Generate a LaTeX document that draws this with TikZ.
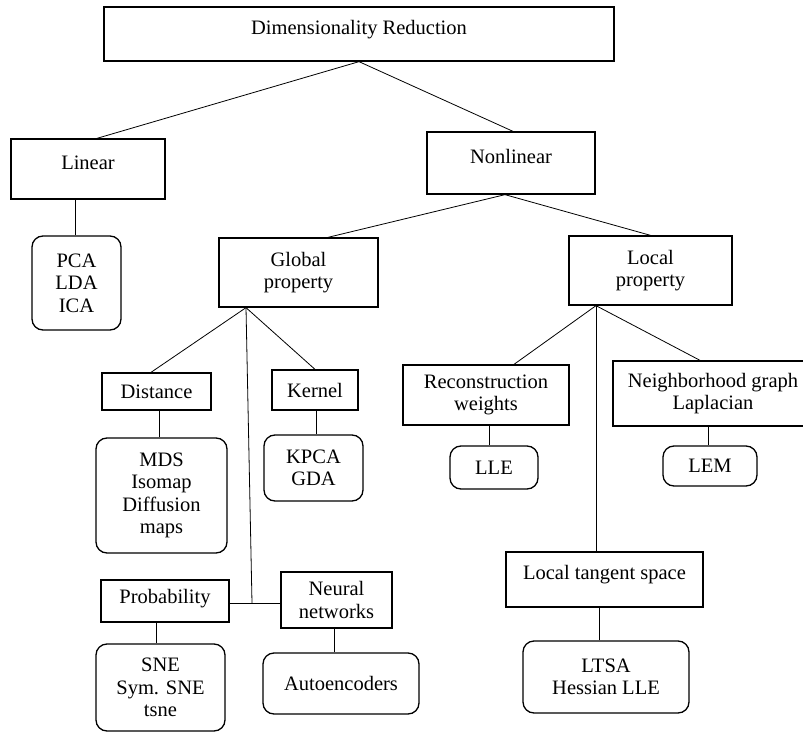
\documentclass[tikz,border=0pt]{standalone}
\usepackage{fontspec}
\setmainfont{Liberation Serif}
\begin{document}
\begin{tikzpicture}[x=1pt,y=-1pt,
  box/.style={draw, line width=1.3pt, inner sep=0pt, align=center, font=\fontsize{20.5pt}{22.5pt}\selectfont},
  rbox/.style={box, rounded corners=11pt},
  link/.style={draw, line width=0.8pt},
  lift/.style={text height=14pt, text depth=#1}]
\useasboundingbox (0,0) rectangle (803,733);
\clip (0,0) rectangle (803,733);
% boxes
\node[box, minimum width=510pt, minimum height=54pt, lift=12.8pt] (dr) at (359,34) {Dimensionality Reduction};
\node[box, minimum width=154pt, minimum height=60pt, lift=12.8pt] (lin) at (88,169) {Linear};
\node[box, minimum width=168pt, minimum height=62pt, lift=12.8pt] (nonlin) at (511,163) {Nonlinear};
\node[rbox, minimum width=89pt, minimum height=94pt] (pca) at (76.5,283) {PCA\\LDA\\ICA};
\node[box, minimum width=159pt, minimum height=69pt] (glob) at (298.5,272.5) {Global\\property};
\node[box, minimum width=163pt, minimum height=69pt] (loc) at (650.5,270.5) {Local\\property};
\node[box, minimum width=109pt, minimum height=37pt] (dist) at (156.5,391.5) {Distance};
\node[box, minimum width=86pt, minimum height=40pt] (kern) at (315,390) {Kernel};
\node[rbox, minimum width=131pt, minimum height=115pt] (mds) at (161.5,495.5) {MDS\\Isomap\\Diffusion\\maps};
\node[rbox, minimum width=99pt, minimum height=66pt] (kpca) at (313.5,468) {KPCA\\GDA};
\node[box, minimum width=128pt, minimum height=42pt, lift=8.8pt] (prob) at (165,601) {Probability};
\node[box, minimum width=111pt, minimum height=56pt] (neur) at (336.5,600) {Neural\\networks};
\node[rbox, minimum width=129pt, minimum height=87pt] (sne) at (160.5,687.5) {SNE\\Sym. SNE\\tsne};
\node[rbox, minimum width=156pt, minimum height=61pt] (auto) at (341,683.5) {Autoencoders};
\node[box, minimum width=166pt, minimum height=60pt] (rec) at (486,395) {Reconstruction\\weights};
\node[box, minimum width=200pt, minimum height=65pt] (nbr) at (713,393.5) {Neighborhood graph\\Laplacian};
\node[rbox, minimum width=88pt, minimum height=43pt] (lle) at (494,467.5) {LLE};
\node[rbox, minimum width=94pt, minimum height=40pt] (lem) at (710,466) {LEM};
\node[box, minimum width=197pt, minimum height=55pt, lift=13.8pt] (lts) at (604.5,579.5) {Local tangent space};
\node[rbox, minimum width=166pt, minimum height=72pt] (ltsa) at (606,677) {LTSA\\Hessian LLE};
% connectors
\path[link] (dr.south) -- ([xshift=9pt]lin.north);
\path[link] (dr.south) -- ([xshift=2pt]nonlin.north);
\path[link] ([xshift=-6pt]nonlin.south) -- ([xshift=29.5pt]glob.north);
\path[link] ([xshift=-6pt]nonlin.south) -- (loc.north);
\path[link] ([xshift=-1.5pt]pca.north) -- ([xshift=-1.5pt]pca.north |- lin.south);
\coordinate (gv) at ([xshift=-52.5pt]glob.south);
\path[link] (gv) -- ([xshift=-5.5pt]dist.north);
\path[link] (gv) -- (kern.north);
\coordinate (gj) at (252,603);
\path[link] (gv) -- (gj);
\path[link] (prob.east |- gj) -- (neur.west |- gj);
\path[link] ([xshift=-2.5pt]mds.north) -- ([xshift=-2.5pt]mds.north |- dist.south);
\path[link] ([xshift=2.5pt]kpca.north) -- ([xshift=2.5pt]kpca.north |- kern.south);
\path[link] ([xshift=-4.5pt]sne.north) -- ([xshift=-4.5pt]sne.north |- prob.south);
\path[link] ([xshift=-2.5pt]neur.south) -- ([xshift=-2.5pt]neur.south |- auto.north);
\coordinate (lv) at ([xshift=-54.5pt]loc.south);
\path[link] (lv) -- ([xshift=28pt]rec.north);
\path[link] (lv) -- ([xshift=-13pt]nbr.north);
\path[link] (lv) -- (lv |- lts.north);
\path[link] ([xshift=-5pt]lle.north) -- ([xshift=-5pt]lle.north |- rec.south);
\path[link] ([xshift=-2pt]lem.north) -- ([xshift=-2pt]lem.north |- nbr.south);
\path[link] ([xshift=-7pt]ltsa.north) -- ([xshift=-7pt]ltsa.north |- lts.south);
\end{tikzpicture}
\end{document}
